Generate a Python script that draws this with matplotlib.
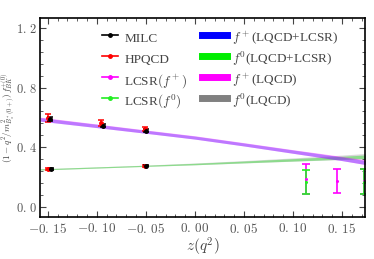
import numpy as np
import matplotlib
matplotlib.use("Agg")
import matplotlib.pyplot as plt
from matplotlib.lines import Line2D
from matplotlib.ticker import FixedLocator, MultipleLocator, FuncFormatter

plt.rcParams['mathtext.fontset'] = 'cm'
plt.rcParams['font.family'] = ['DejaVu Serif']

# --- data -----------------------------------------------------------
milc_z = [-0.148, -0.094, -0.0495]
milc_fp = [0.590, 0.546, 0.510]
milc_fp_err = [0.012, 0.012, 0.010]
milc_z0 = [-0.147, -0.0495]
milc_f0 = [0.255, 0.278]
milc_f0_err = [0.005, 0.005]

hpqcd_z = [-0.1497, -0.0955, -0.0505]
hpqcd_fp = [0.596, 0.562, 0.522]
hpqcd_fp_err = [0.027, 0.018, 0.014]
hpqcd_z0 = [-0.1497, -0.0505]
hpqcd_f0 = [0.253, 0.277]
hpqcd_f0_err = [0.006, 0.006]

lcsr_fp_z = [0.113, 0.145, 0.172]
lcsr_fp = [0.186, 0.175, 0.172]
lcsr_fp_err = [0.099, 0.083, 0.083]
lcsr_f0_z = [0.113, 0.172]
lcsr_f0 = [0.169, 0.170]
lcsr_f0_err = [0.082, 0.082]

band_z = [-0.158, -0.10, -0.05, 0.00, 0.05, 0.10, 0.15, 0.175]
fp_comb = [0.587, 0.543, 0.504, 0.465, 0.419, 0.371, 0.323, 0.297]
fp_comb_err = [0.012, 0.011, 0.010, 0.010, 0.010, 0.011, 0.012, 0.013]
fp_lqcd = [0.589, 0.544, 0.505, 0.466, 0.420, 0.372, 0.325, 0.299]
fp_lqcd_err = [0.013, 0.012, 0.011, 0.011, 0.011, 0.012, 0.014, 0.016]
f0_comb = [0.252, 0.265, 0.276, 0.288, 0.302, 0.316, 0.330, 0.337]
f0_comb_err = [0.004, 0.004, 0.004, 0.005, 0.006, 0.008, 0.010, 0.012]
f0_lqcd = [0.252, 0.265, 0.277, 0.289, 0.303, 0.318, 0.333, 0.341]
f0_lqcd_err = [0.004, 0.004, 0.004, 0.006, 0.008, 0.011, 0.015, 0.018]

xticks = [-0.15, -0.10, -0.05, 0.00, 0.05, 0.10, 0.15]
yticks = [0.0, 0.4, 0.8, 1.2]

# --- figure -----------------------------------------------------------
fig = plt.figure(figsize=(3.74, 2.59), dpi=100)
ax = fig.add_axes([0.107, 0.162, 0.869, 0.769])

bz = np.array(band_z)
def band(vals, errs, color, alpha):
    v = np.array(vals); e = np.array(errs)
    ax.fill_between(bz, v - e, v + e, color=color, alpha=alpha, lw=0)

band(f0_lqcd, f0_lqcd_err, 'gray', 0.3)
band(f0_comb, f0_comb_err, '#33dd33', 0.45)
band(fp_lqcd, fp_lqcd_err, '#ff00ff', 0.4)
band(fp_comb, fp_comb_err, '#3333ff', 0.32)

ekw = dict(fmt='o', ms=2.5, capsize=2.5, elinewidth=1.1, capthick=1.1)
ax.errorbar(hpqcd_z, hpqcd_fp, yerr=hpqcd_fp_err, color='red', **ekw)
ax.errorbar(hpqcd_z0, hpqcd_f0, yerr=hpqcd_f0_err, color='red', **ekw)
ax.errorbar(milc_z, milc_fp, yerr=milc_fp_err, color='black', **ekw)
ax.errorbar(milc_z0, milc_f0, yerr=milc_f0_err, color='black', **ekw)
ekw2 = dict(fmt='o', ms=1.2, capsize=3, elinewidth=1.2, capthick=1.2)
ax.errorbar(lcsr_fp_z, lcsr_fp, yerr=lcsr_fp_err, color='#ff00ff', **ekw2)
ax.errorbar(lcsr_f0_z, lcsr_f0, yerr=lcsr_f0_err, color='#22ee22', **ekw2)

ax.set_xlim(-0.158, 0.1735)
ax.set_ylim(-0.067, 1.267)

ax.xaxis.set_major_locator(FixedLocator(xticks))
ax.xaxis.set_minor_locator(MultipleLocator(0.01))
ax.yaxis.set_major_locator(FixedLocator(yticks))
ax.yaxis.set_minor_locator(MultipleLocator(0.08))

def fmt(v, pos, nd):
    s = f"{abs(v):.{nd}f}"
    a, b = s.split('.')
    sign = '-' if v < -1e-9 else ''
    return rf"${sign}{a}.\,{b}$"

ax.xaxis.set_major_formatter(FuncFormatter(lambda v, p: fmt(v, p, 2)))
ax.yaxis.set_major_formatter(FuncFormatter(lambda v, p: fmt(v, p, 1)))

ax.tick_params(which='both', direction='in', top=True, right=True,
               colors='#444444', labelcolor='#555555')
ax.tick_params(axis='x', labelsize=9.5)
ax.tick_params(axis='y', labelsize=9, pad=2)
ax.tick_params(which='major', length=4, width=0.8)
ax.tick_params(which='minor', length=2, width=0.6)
for s in ax.spines.values():
    s.set_linewidth(1.2)

ax.set_xlabel(r"$z(q^2)$", fontsize=11, color='#444444', labelpad=0)
ax.set_ylabel(r"$(1-q^2/m^2_{B_s^*(0+)})\,f^{+(0)}_{BK}$", fontsize=6.6,
              color='#444444', va='center')
ax.yaxis.set_label_coords(-0.095, 0.5)

h1 = [Line2D([], [], color=c, marker='o', ms=2.5, lw=1.2)
      for c in ['black', 'red', '#ff00ff', '#22ee22']]
l1 = ['MILC', 'HPQCD', r'LCSR$(f^+)$', r'LCSR$(f^0)$']
leg1 = ax.legend(h1, l1, loc='upper left', bbox_to_anchor=(0.19, 0.95),
                 frameon=False, borderpad=0, borderaxespad=0,
                 handlelength=1.2, handletextpad=0.5, labelspacing=0.0,
                 handleheight=2.07,
                 prop={'family': 'Liberation Serif', 'size': 9.5})
for t in leg1.get_texts():
    t.set_color('#444444')
ax.add_artist(leg1)

h2 = [Line2D([], [], color=c, lw=5) for c in ['blue', '#00ee00', '#ff00ff', 'gray']]
l2 = [r'$f^+$(LQCD+LCSR)', r'$f^0$(LQCD+LCSR)', r'$f^+$(LQCD)', r'$f^0$(LQCD)']
leg2 = ax.legend(h2, l2, loc='upper left', bbox_to_anchor=(0.498, 0.95),
                 frameon=False, borderpad=0, borderaxespad=0,
                 handlelength=1.9, handletextpad=0.4, labelspacing=0.0,
                 handleheight=2.07,
                 prop={'family': 'Liberation Serif', 'size': 9.5})
for t in leg2.get_texts():
    t.set_color('#444444')

fig.savefig('out.png', dpi=100)
